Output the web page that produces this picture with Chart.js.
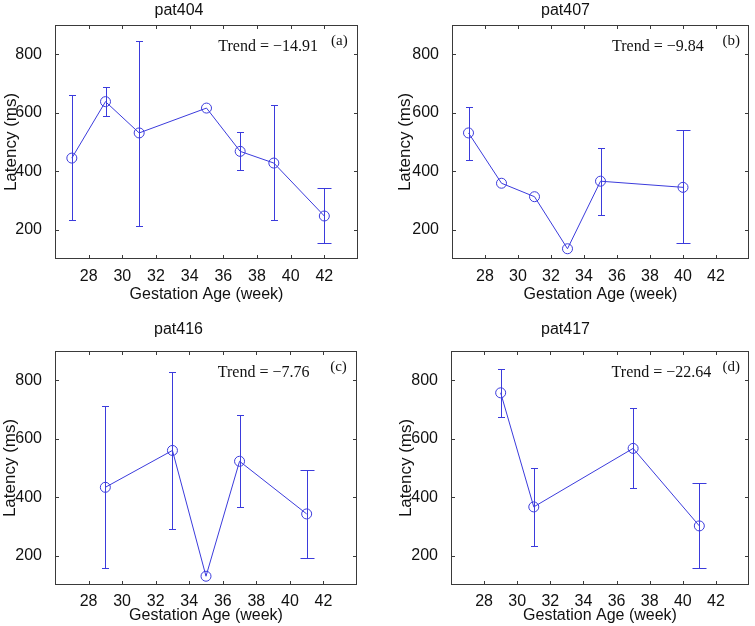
<!DOCTYPE html>
<html>
<head>
<meta charset="utf-8">
<script src="https://cdn.jsdelivr.net/npm/chart.js"></script>
<style>
  body { margin: 0; background: #fff; }
  .panel { position: absolute; }
</style>
</head>
<body>
<div class="panel" style="left:0;top:0"><canvas id="chartA" width="378" height="310"></canvas></div>
<div class="panel" style="left:378px;top:0"><canvas id="chartB" width="377" height="310"></canvas></div>
<div class="panel" style="left:0;top:310px"><canvas id="chartC" width="378" height="316"></canvas></div>
<div class="panel" style="left:378px;top:310px"><canvas id="chartD" width="377" height="316"></canvas></div>
<script>
// tick labels shared by all panels
var ageTicks = [28, 30, 32, 34, 36, 38, 40, 42];
var latencyTicks = [200, 400, 600, 800];

// pat404
var ageA = [27, 29, 31, 35, 37, 39, 42];
var latA = [445, 638, 531, 616, 468, 428, 247];
var lowA = [232, 590, 214, 616, 405, 232, 154];
var highA = [660, 688, 847, 616, 533, 625, 343];

// pat407
var ageB = [27, 29, 31, 33, 35, 40];
var latB = [531, 359, 313, 135, 366, 345];
var lowB = [440, 359, 313, 135, 251, 154];
var highB = [618, 359, 313, 135, 478, 540];

// pat416
var ageC = [29, 33, 35, 37, 41];
var latC = [434, 560, 130, 523, 343];
var lowC = [158, 291, 130, 366, 191];
var highC = [711, 827, 130, 680, 494];

// pat417
var ageD = [29, 31, 37, 41];
var latD = [757, 367, 567, 302];
var lowD = [675, 234, 430, 157];
var highD = [838, 501, 704, 450];

var blue = '#3b3bdc';
var sans = '"Liberation Sans", Arial, sans-serif';
var serif = '"Liberation Serif", "Times New Roman", serif';

// matlab style box with inward ticks on all four sides
var axesBox = {
  id: 'axesBox',
  afterDraw: function (chart) {
    var c = chart.ctx, a = chart.chartArea;
    var xs = chart.scales.x, ys = chart.scales.y;
    c.save();
    c.strokeStyle = '#3a3a3a';
    c.lineWidth = 1;
    c.strokeRect(Math.round(a.left) + 0.5, Math.round(a.top) + 0.5,
      Math.round(a.right - a.left) - 1, Math.round(a.bottom - a.top) - 1);
    c.beginPath();
    ageTicks.forEach(function (v) {
      var px = Math.round(xs.getPixelForValue(v)) + 0.5;
      c.moveTo(px, a.bottom); c.lineTo(px, a.bottom - 4);
      c.moveTo(px, a.top); c.lineTo(px, a.top + 4);
    });
    latencyTicks.forEach(function (v) {
      var py = Math.round(ys.getPixelForValue(v)) + 0.5;
      c.moveTo(a.left, py); c.lineTo(a.left + 4, py);
      c.moveTo(a.right, py); c.lineTo(a.right - 4, py);
    });
    c.stroke();
    c.restore();
  }
};

var errorBars = {
  id: 'errorBars',
  afterDatasetsDraw: function (chart, args, opts) {
    var c = chart.ctx, xs = chart.scales.x, ys = chart.scales.y;
    var pts = chart.data.datasets[0].data;
    c.save();
    c.strokeStyle = blue;
    c.lineWidth = 1;
    c.beginPath();
    pts.forEach(function (p, i) {
      if (opts.high[i] - opts.low[i] < 1) return;
      var px = Math.round(xs.getPixelForValue(p.x)) + 0.5;
      var yLo = Math.round(ys.getPixelForValue(opts.low[i])) + 0.5;
      var yHi = Math.round(ys.getPixelForValue(opts.high[i])) + 0.5;
      var cap = i === pts.length - 1 ? 7 : 3.5;
      c.moveTo(px, yLo); c.lineTo(px, yHi);
      c.moveTo(px - cap, yLo); c.lineTo(px + cap, yLo);
      c.moveTo(px - cap, yHi); c.lineTo(px + cap, yHi);
    });
    c.stroke();
    c.restore();
  }
};

var panelText = {
  id: 'panelText',
  afterDraw: function (chart, args, opts) {
    var c = chart.ctx, xs = chart.scales.x, ys = chart.scales.y;
    c.save();
    c.fillStyle = '#111';
    c.textAlign = 'left';
    c.textBaseline = 'middle';
    c.font = '16px ' + serif;
    c.fillText('Trend = ' + opts.trend, xs.getPixelForValue(35.7), ys.getPixelForValue(824));
    c.font = '15px ' + serif;
    c.fillText(opts.tag, xs.getPixelForValue(42.4), ys.getPixelForValue(845));
    c.restore();
  }
};

function makePanel(id, name, ages, lat, low, high, trend, tag, box) {
  var ctx = document.getElementById(id).getContext('2d');
  return new Chart(ctx, {
    type: 'line',
    data: {
      datasets: [{
        data: ages.map(function (a, i) { return { x: a, y: lat[i] }; }),
        borderColor: blue,
        borderWidth: 1,
        tension: 0,
        fill: false,
        pointStyle: 'circle',
        pointRadius: 5,
        pointHoverRadius: 5,
        pointBorderWidth: 1,
        pointBorderColor: blue,
        pointBackgroundColor: 'rgba(0,0,0,0)'
      }]
    },
    options: {
      responsive: false,
      animation: false,
      events: [],
      layout: { padding: { left: 0, top: 0, bottom: 0, right: box.padRight } },
      scales: {
        x: {
          type: 'linear',
          min: 26,
          max: 44,
          afterBuildTicks: function (s) { s.ticks = ageTicks.map(function (v) { return { value: v }; }); },
          afterFit: function (s) { s.height = box.xHeight; },
          grid: { display: false },
          border: { display: false },
          ticks: { autoSkip: false, maxRotation: 0, padding: box.xTickPad, color: '#111',
                   font: { family: sans, size: 16 } },
          title: { display: true, text: 'Gestation Age (week)', color: '#111',
                   font: { family: sans, size: 16 }, padding: { top: 0, bottom: box.xTitlePad } }
        },
        y: {
          min: 100,
          max: 900,
          afterBuildTicks: function (s) { s.ticks = latencyTicks.map(function (v) { return { value: v }; }); },
          afterFit: function (s) { s.width = box.yWidth; },
          grid: { display: false },
          border: { display: false },
          ticks: { padding: box.yTickPad, color: '#111', font: { family: sans, size: 16 } },
          title: { display: true, text: 'Latency (ms)', color: '#111',
                   font: { family: sans, size: 17 }, padding: { top: box.yTitlePad, bottom: 0 } }
        }
      },
      plugins: {
        legend: { display: false },
        tooltip: { enabled: false },
        title: { display: true, text: name, color: '#111',
                 font: { family: sans, size: 16, weight: 'normal', lineHeight: 1 },
                 padding: { top: box.titleTop, bottom: box.titleBottom } },
        errorBars: { low: low, high: high },
        panelText: { trend: trend, tag: tag }
      }
    },
    plugins: [errorBars, axesBox, panelText]
  });
}

makePanel('chartA', 'pat404', ageA, latA, lowA, highA, '\u221214.91', '(a)',
  { yWidth: 55, padRight: 20, xHeight: 51, xTickPad: 0, xTitlePad: 6, yTickPad: 5, yTitlePad: 1, titleTop: 3, titleBottom: 6 });
makePanel('chartB', 'pat407', ageB, latB, lowB, highB, '\u22129.84', '(b)',
  { yWidth: 74, padRight: 2, xHeight: 51, xTickPad: 0, xTitlePad: 6, yTickPad: 5, yTitlePad: 17, titleTop: 3, titleBottom: 6 });
makePanel('chartC', 'pat416', ageC, latC, lowC, highC, '\u22127.76', '(c)',
  { yWidth: 55, padRight: 21, xHeight: 41, xTickPad: -1, xTitlePad: 1, yTickPad: 5, yTitlePad: 0, titleTop: 12, titleBottom: 13 });
makePanel('chartD', 'pat417', ageD, latD, lowD, highD, '\u221222.64', '(d)',
  { yWidth: 73, padRight: 2, xHeight: 41, xTickPad: -1, xTitlePad: 1, yTickPad: 5, yTitlePad: 18, titleTop: 12, titleBottom: 13 });
</script>
</body>
</html>
